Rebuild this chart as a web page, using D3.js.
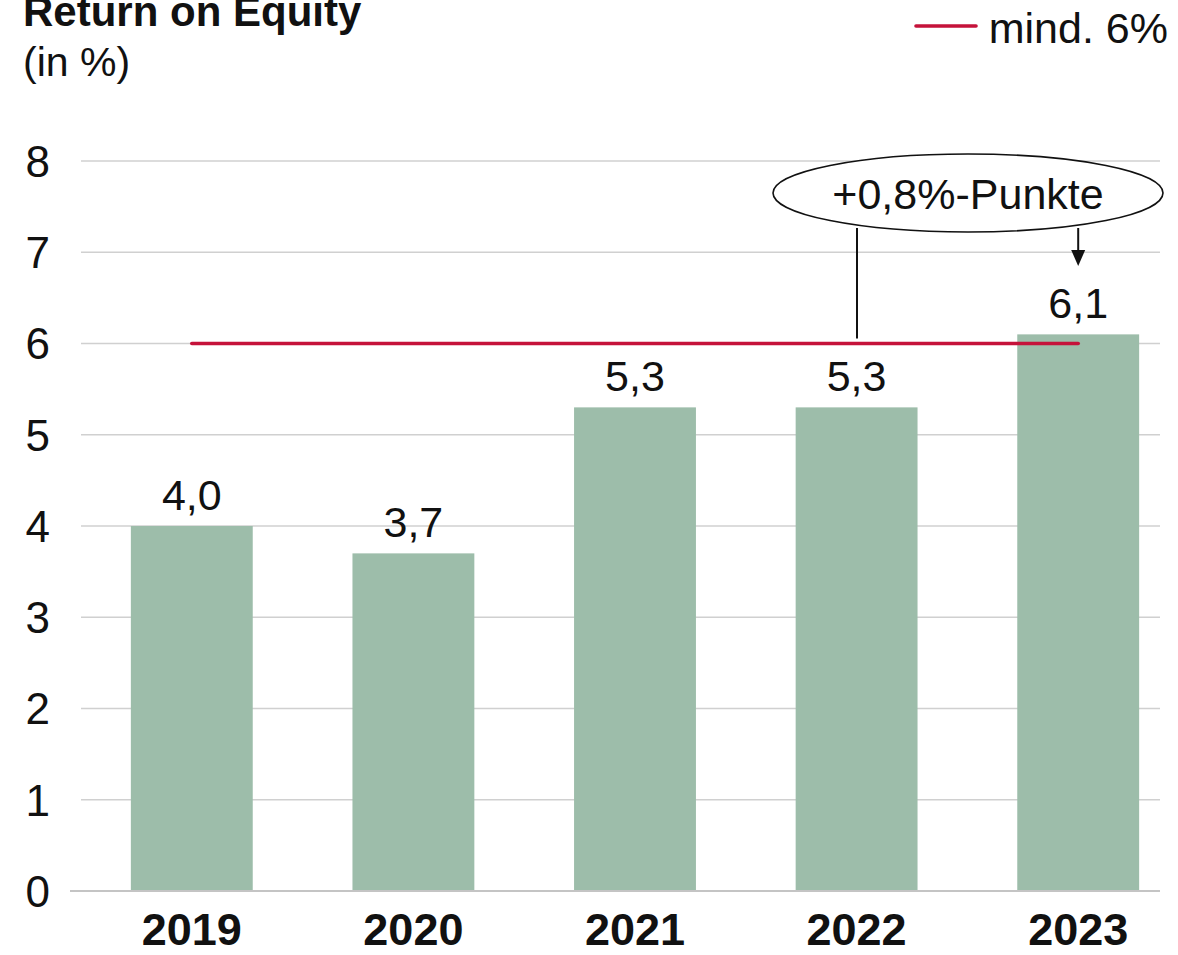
<!DOCTYPE html>
<meta charset="utf-8">
<title>Return on Equity</title>
<script src="https://d3js.org/d3.v7.min.js"></script>
<style>
    body { margin: 0; background: #fff; }
    text { font-family: "Liberation Sans", Arial, sans-serif; fill: #111; }
</style>
<body>
<script>
    // data
    const years = ["2019", "2020", "2021", "2022", "2023"];
    const roe = [4.0, 3.7, 5.3, 5.3, 6.1];
    const yTicks = [0, 1, 2, 3, 4, 5, 6, 7, 8];
    const target = 6;
    const targetLabel = "mind. 6%";
    const deltaLabel = "+0,8%-Punkte";

    const W = 1178, H = 955;
    const svg = d3.select("body").append("svg").attr("width", W).attr("height", H);

    const x = d3.scaleBand().domain(years).range([81, 1189]).paddingInner(0.45).paddingOuter(0.225);
    const y = d3.scaleLinear().domain([0, 8]).range([891, 161]);
    const fmt = v => v.toFixed(1).replace(".", ",");

    // gridlines
    svg.append("g").selectAll("line")
        .data(yTicks.filter(t => t > 0))
        .join("line")
        .attr("x1", 81).attr("x2", 1160)
        .attr("y1", d => y(d)).attr("y2", d => y(d))
        .attr("stroke", "#d0d0d0").attr("stroke-width", 1.3);

    // y tick labels
    svg.append("g").selectAll("text")
        .data(yTicks)
        .join("text")
        .attr("x", 50).attr("y", d => y(d))
        .attr("dy", "0.36em")
        .attr("text-anchor", "end")
        .attr("font-size", 44)
        .text(d => d);

    // bars
    svg.append("g").selectAll("rect")
        .data(roe)
        .join("rect")
        .attr("x", (d, i) => x(years[i]))
        .attr("width", x.bandwidth())
        .attr("y", d => y(d))
        .attr("height", d => y(0) - y(d))
        .attr("fill", "#9dbdaa");

    // baseline
    svg.append("line")
        .attr("x1", 70).attr("x2", 1160)
        .attr("y1", y(0)).attr("y2", y(0))
        .attr("stroke", "#c4c4c4").attr("stroke-width", 2);

    // value labels
    svg.append("g").selectAll("text")
        .data(roe)
        .join("text")
        .attr("x", (d, i) => x(years[i]) + x.bandwidth() / 2)
        .attr("y", d => y(d) - 16)
        .attr("text-anchor", "middle")
        .attr("font-size", 43)
        .text(fmt);

    // year labels
    svg.append("g").selectAll("text")
        .data(years)
        .join("text")
        .attr("x", d => x(d) + x.bandwidth() / 2)
        .attr("y", 945)
        .attr("text-anchor", "middle")
        .attr("font-size", 45)
        .attr("font-weight", "bold")
        .text(d => d);

    // target line
    const red = "#c5123a";
    const cx0 = x(years[0]) + x.bandwidth() / 2;
    const cx4 = x(years[4]) + x.bandwidth() / 2;
    svg.append("line")
        .attr("x1", cx0).attr("x2", cx4)
        .attr("y1", y(target)).attr("y2", y(target))
        .attr("stroke", red).attr("stroke-width", 3.6)
        .attr("stroke-linecap", "round");

    // annotation
    const ann = svg.append("g");
    ann.append("line")
        .attr("x1", 857).attr("x2", 857)
        .attr("y1", 228).attr("y2", y(target) - 5)
        .attr("stroke", "#111").attr("stroke-width", 2);
    ann.append("line")
        .attr("x1", cx4).attr("x2", cx4)
        .attr("y1", 228).attr("y2", 252)
        .attr("stroke", "#111").attr("stroke-width", 2);
    ann.append("path")
        .attr("d", `M${cx4 - 7},250 L${cx4 + 7},250 L${cx4},266 Z`)
        .attr("fill", "#111");
    ann.append("ellipse")
        .attr("cx", 968).attr("cy", 193)
        .attr("rx", 195).attr("ry", 39)
        .attr("fill", "#fff").attr("stroke", "#111").attr("stroke-width", 1.6);
    ann.append("text")
        .attr("x", 968).attr("y", 209)
        .attr("text-anchor", "middle")
        .attr("font-size", 43)
        .text(deltaLabel);

    // title
    svg.append("text")
        .attr("x", 23).attr("y", 26)
        .attr("font-size", 42).attr("font-weight", "bold")
        .text("Return on Equity");
    svg.append("text")
        .attr("x", 23).attr("y", 76)
        .attr("font-size", 41)
        .text("(in %)");

    // legend
    svg.append("line")
        .attr("x1", 916).attr("x2", 976)
        .attr("y1", 26).attr("y2", 26)
        .attr("stroke", red).attr("stroke-width", 3.6)
        .attr("stroke-linecap", "round");
    svg.append("text")
        .attr("x", 1168).attr("y", 43)
        .attr("text-anchor", "end")
        .attr("font-size", 43)
        .text(targetLabel);
</script>
</body>
